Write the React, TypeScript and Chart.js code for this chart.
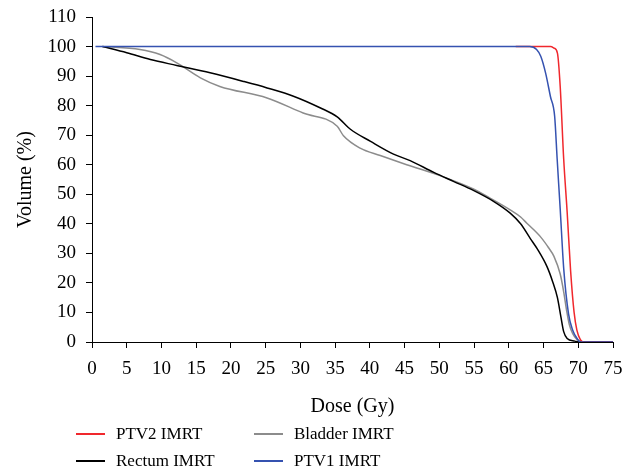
import React, { useEffect, useRef } from "react";
import { Chart, registerables } from "chart.js";

Chart.register(...registerables);

const xTicks = [0, 5, 10, 15, 20, 25, 30, 35, 40, 45, 50, 55, 60, 65, 70, 75];
const yTicks = [0, 10, 20, 30, 40, 50, 60, 70, 80, 90, 100, 110];

const ptv1Dose = [0.5, 63, 64, 64.6, 65.3, 66, 66.6, 66.96, 67.4, 67.9, 68.6, 69.2, 69.8, 70.3, 75];
const ptv1Volume = [100, 100, 99, 96.7, 91, 83, 76.4, 62, 45, 25, 9.5, 4, 1.3, 0, 0];

const ptv2Dose = [61, 66, 66.5, 67, 67.4, 67.9, 68.4, 68.9, 69.4, 69.8, 70.3, 70.8, 75];
const ptv2Volume = [100, 100, 99.5, 97.8, 86.5, 62, 44, 24, 10, 4, 0.8, 0, 0];

const rectumDose = [1.5, 5, 8.4, 12.2, 17, 21.8, 25.2, 29, 32.9, 35.3, 37.2, 40.1, 43.4, 45.8, 49.2, 52.1, 54.9, 57.8, 60.2, 61.7, 63.1, 64.1, 65.5, 66.3, 67, 67.5, 67.9, 68.4, 69.5, 70, 75];
const rectumVolume = [100, 97.9, 95.6, 93.6, 91.1, 88.2, 86, 83.2, 79.2, 76.2, 72, 67.9, 63.6, 61.4, 57.4, 54.3, 51.3, 47.6, 43.6, 40, 35, 31.5, 25.5, 20.5, 15, 8.5, 3.5, 1.2, 0.3, 0, 0];

const bladderDose = [1.5, 6.9, 9.8, 12.2, 15.6, 18.4, 25.2, 30.4, 35.3, 36.2, 38.6, 41.5, 45.3, 50.1, 54.9, 57.3, 60.2, 61.7, 62.6, 64.6, 65.7, 66.5, 67.4, 67.9, 68.3, 68.7, 69.2, 69.8, 70.7, 75];
const bladderVolume = [100, 99, 97.3, 94.5, 89.4, 86.5, 82.6, 77.5, 73, 69.8, 65.6, 63.1, 60, 56.3, 51.8, 48.7, 44.7, 42.3, 40.2, 35.5, 32, 29, 23, 17, 11, 6, 2.8, 0.9, 0, 0];

const legendItems = [
  { label: "PTV2 IMRT", color: "#f0282d" },
  { label: "Bladder IMRT", color: "#8c8c8c" },
  { label: "Rectum IMRT", color: "#000000" },
  { label: "PTV1 IMRT", color: "#3552b0" },
];

const pts = (xs: number[], ys: number[]) => xs.map((x, i) => ({ x, y: ys[i] }));

const FONT = "'Liberation Serif', 'DejaVu Serif', serif";

export default function App() {
  const ref = useRef<HTMLCanvasElement | null>(null);

  useEffect(() => {
    document.body.style.margin = "0";
    const ctx = ref.current!;
    const mk = (label: string, xs: number[], ys: number[], color: string) => ({
      label,
      data: pts(xs, ys),
      borderColor: color,
      backgroundColor: color,
      borderWidth: 1.5,
      pointRadius: 0,
      fill: false,
      cubicInterpolationMode: "monotone" as const,
    });
    const chart = new Chart(ctx, {
      type: "line",
      data: {
        datasets: [
          mk("PTV1 IMRT", ptv1Dose, ptv1Volume, legendItems[3].color),
          mk("PTV2 IMRT", ptv2Dose, ptv2Volume, legendItems[0].color),
          mk("Rectum IMRT", rectumDose, rectumVolume, legendItems[2].color),
          mk("Bladder IMRT", bladderDose, bladderVolume, legendItems[1].color),
        ],
      },
      options: {
        animation: false,
        responsive: false,
        maintainAspectRatio: false,
        layout: { padding: { left: 0, right: 22, top: 17, bottom: 0 } },
        plugins: { legend: { display: false }, tooltip: { enabled: false } },
        scales: {
          x: {
            type: "linear",
            min: 0,
            max: 75,
            afterBuildTicks: (s: any) => {
              s.ticks = xTicks.map((v) => ({ value: v }));
            },
            afterFit: (s: any) => {
              s.height = 132;
              s.paddingLeft = 0;
              s.paddingRight = 0;
            },
            ticks: {
              color: "#000",
              font: { family: FONT, size: 19 },
              padding: 10,
              maxRotation: 0,
              autoSkip: false,
            },
            grid: {
              display: true,
              drawOnChartArea: false,
              drawTicks: true,
              tickLength: 6,
              color: "#000",
              lineWidth: 1,
            },
            border: { display: true, color: "#000", width: 1 },
            title: {
              display: true,
              text: "Dose (Gy)",
              color: "#000",
              font: { family: FONT, size: 20 },
              padding: { top: 4, bottom: 55 },
            },
          },
          y: {
            type: "linear",
            min: 0,
            max: 110,
            afterBuildTicks: (s: any) => {
              s.ticks = yTicks.map((v) => ({ value: v }));
            },
            afterFit: (s: any) => {
              s.width = 92;
              s.paddingTop = 0;
              s.paddingBottom = 0;
            },
            ticks: {
              color: "#000",
              font: { family: FONT, size: 19 },
              padding: 10,
              autoSkip: false,
            },
            grid: {
              display: true,
              drawOnChartArea: false,
              drawTicks: true,
              tickLength: 6,
              color: "#000",
              lineWidth: 1,
            },
            border: { display: true, color: "#000", width: 1 },
            title: {
              display: true,
              text: "Volume (%)",
              color: "#000",
              font: { family: FONT, size: 20 },
              padding: { top: 14, bottom: 4 },
            },
          },
        },
      },
    });
    return () => chart.destroy();
  }, []);

  const legendPos = [
    { left: 76, top: 434 },
    { left: 254, top: 434 },
    { left: 76, top: 461 },
    { left: 254, top: 461 },
  ];

  return (
    <div style={{ position: "relative", width: 635, height: 474, background: "#fff" }}>
      <canvas ref={ref} width={635} height={474} style={{ position: "absolute", left: 0, top: 0 }} />
      {legendItems.map((it, i) => (
        <div
          key={it.label}
          style={{
            position: "absolute",
            left: legendPos[i].left,
            top: legendPos[i].top - 11,
            height: 22,
            display: "flex",
            alignItems: "center",
            fontFamily: FONT,
            fontSize: 17,
            color: "#000",
            whiteSpace: "nowrap",
          }}
        >
          <span style={{ display: "inline-block", width: 29, height: 1.5, background: it.color, marginRight: 11 }} />
          <span>{it.label}</span>
        </div>
      ))}
    </div>
  );
}
